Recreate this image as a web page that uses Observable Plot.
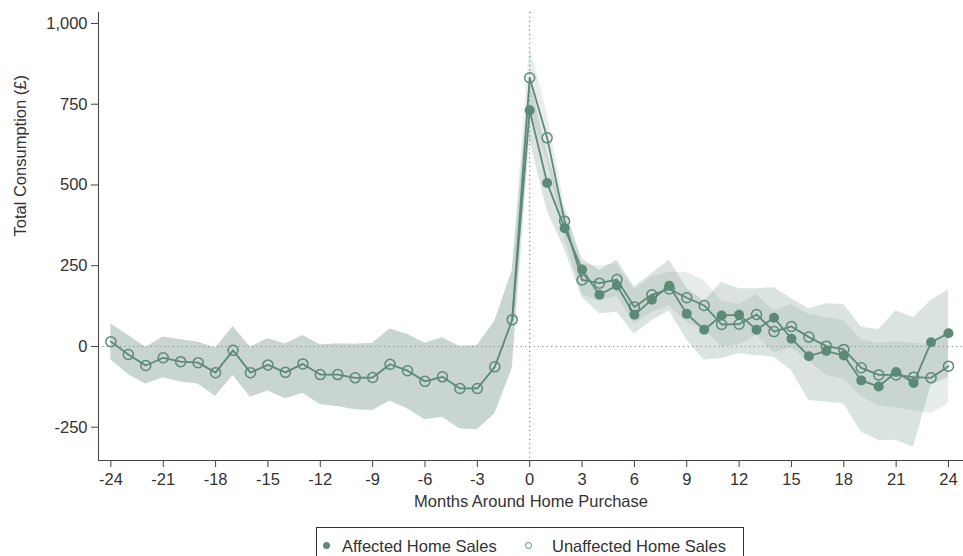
<!DOCTYPE html>
<html>
<head>
<meta charset="utf-8">
<script src="https://cdn.jsdelivr.net/npm/d3@7"></script>
<script src="https://cdn.jsdelivr.net/npm/@observablehq/plot@0.6"></script>
<style>
  html, body { margin: 0; padding: 0; background: #fff; }
  body { width: 963px; height: 556px; position: relative; overflow: hidden; font-family: "Liberation Sans", Arial, sans-serif; }
  #legend { position: absolute; left: 316px; top: 527px; width: 428px; height: 40px; border: 1.5px solid #333; box-sizing: border-box; }
  .item { position: absolute; top: 8px; font-size: 16.5px; color: #333; line-height: 20px; white-space: nowrap; }
  .mk { position: absolute; top: 6px; width: 7px; height: 7px; border-radius: 50%; box-sizing: border-box; }
</style>
</head>
<body>
<div id="chart"></div>
<div id="legend">
  <span class="item" style="left:2px"><span class="mk" id="mk1" style="left:4px"></span><span style="margin-left:23px">Affected Home Sales</span></span>
  <span class="item" style="left:208px"><span class="mk" id="mk2" style="left:0px"></span><span style="margin-left:27px">Unaffected Home Sales</span></span>
</div>
<script>
// ---- data ----
const preMonths = [-24,-23,-22,-21,-20,-19,-18,-17,-16,-15,-14,-13,-12,-11,-10,-9,-8,-7,-6,-5,-4,-3,-2,-1];
const preValue = [15,-25,-59,-35,-47,-50,-81,-12,-81,-57,-80,-54,-87,-87,-97,-96,-55,-75,-108,-94,-130,-130,-63,83];
const preUpper = [70,34,-2,29,21,13,-5,62,-2,24,8,34,5,8,7,10,54,37,10,27,0,3,78,235];
const preLower = [-41,-87,-116,-97,-110,-116,-154,-90,-157,-138,-162,-145,-180,-186,-196,-198,-169,-193,-227,-219,-255,-258,-208,-68];

const postMonths = [0,1,2,3,4,5,6,7,8,9,10,11,12,13,14,15,16,17,18,19,20,21,22,23,24];
const affected   = [731,506,366,238,160,189,98,145,188,101,52,96,98,52,89,24,-30,-14,-28,-105,-124,-79,-113,13,41];
const unaffected = [832,646,388,206,196,207,122,160,178,151,127,68,69,99,46,62,29,1,-9,-66,-88,-88,-95,-97,-61];
const affUpper   = [830,600,420,272,235,268,184,225,268,180,140,199,179,179,182,148,117,132,130,60,52,111,89,142,175];
const affLower   = [640,420,300,153,101,106,39,80,110,20,-43,-37,-22,-28,-33,-74,-167,-172,-177,-265,-291,-290,-312,-120,-95];
const unaUpper   = [930,720,440,255,250,255,175,215,230,230,204,140,130,160,110,130,100,90,80,20,10,15,10,5,50];
const unaLower   = [735,575,335,160,140,155,70,105,125,75,50,0,5,35,-20,-5,-45,-90,-100,-155,-185,-190,-200,-208,-177];

const xTicks = [-24,-21,-18,-15,-12,-9,-6,-3,0,3,6,9,12,15,18,21,24];
const yTicks = [-250,0,250,500,750,1000];
const xLabel = "Months Around Home Purchase";
const yLabel = "Total Consumption (£)";

// ---- build table ----
const rows = [];
preMonths.forEach((m, i) => rows.push({month: m, aff: preValue[i], una: preValue[i], aHi: preUpper[i], aLo: preLower[i], uHi: preUpper[i], uLo: preLower[i]}));
postMonths.forEach((m, i) => rows.push({month: m, aff: affected[i], una: unaffected[i], aHi: affUpper[i], aLo: affLower[i], uHi: unaUpper[i], uLo: unaLower[i]}));

const color = "#5c8a77";
const bandColor = "#6a8f80";
const xDomain = [-24.71, 24.86];
const yDomain = [-353, 1034];
const fmt = d => d.toLocaleString("en-US");

document.getElementById("mk1").style.background = color;
document.getElementById("mk2").style.border = "1.3px solid " + color;

const chart = Plot.plot({
  width: 963,
  height: 526,
  marginLeft: 98,
  marginRight: 0,
  marginTop: 12,
  marginBottom: 66,
  style: {fontFamily: "'Liberation Sans', Arial, sans-serif", fontSize: "16.5px", color: "#333", background: "#fff", overflow: "visible"},
  x: {domain: xDomain},
  y: {domain: yDomain},
  marks: [
    Plot.areaY(rows, {x: "month", y1: "uLo", y2: "uHi", fill: bandColor, fillOpacity: 0.16}),
    Plot.areaY(rows, {x: "month", y1: "aLo", y2: "aHi", fill: bandColor, fillOpacity: 0.25}),
    Plot.ruleY([0], {stroke: "#888", strokeWidth: 1.2, strokeDasharray: "1.2,3.2"}),
    Plot.ruleX([0], {stroke: "#888", strokeWidth: 1.2, strokeDasharray: "1.2,3.2"}),
    Plot.lineY(rows.filter(d => d.month >= -1), {x: "month", y: "aff", stroke: color, strokeWidth: 1.8}),
    Plot.lineY(rows, {x: "month", y: "una", stroke: color, strokeWidth: 1.8}),
    Plot.dot(rows.filter(d => d.month >= 0), {x: "month", y: "aff", r: 5, fill: color, stroke: "none"}),
    Plot.dot(rows, {x: "month", y: "una", r: 5, fill: "none", stroke: color, strokeWidth: 1.5}),
    Plot.ruleY([yDomain[0]], {stroke: "#444", strokeWidth: 1}),
    Plot.ruleX([xDomain[0]], {stroke: "#444", strokeWidth: 1}),
    Plot.axisX({ticks: xTicks, tickSize: 7, tickPadding: 6, label: null, tickFormat: fmt, stroke: "#444", fill: "#333", fontSize: 16.5}),
    Plot.axisY({ticks: yTicks, tickSize: 7, tickPadding: 4, label: null, tickFormat: fmt, stroke: "#444", fill: "#333", fontSize: 16.5}),
    Plot.text([xLabel], {frameAnchor: "bottom", dy: 46, fontSize: 16.5, fill: "#333"}),
    Plot.text([yLabel], {frameAnchor: "left", dx: -78, rotate: -90, fontSize: 16.5, fill: "#333"})
  ]
});
document.getElementById("chart").appendChild(chart);
</script>
</body>
</html>
